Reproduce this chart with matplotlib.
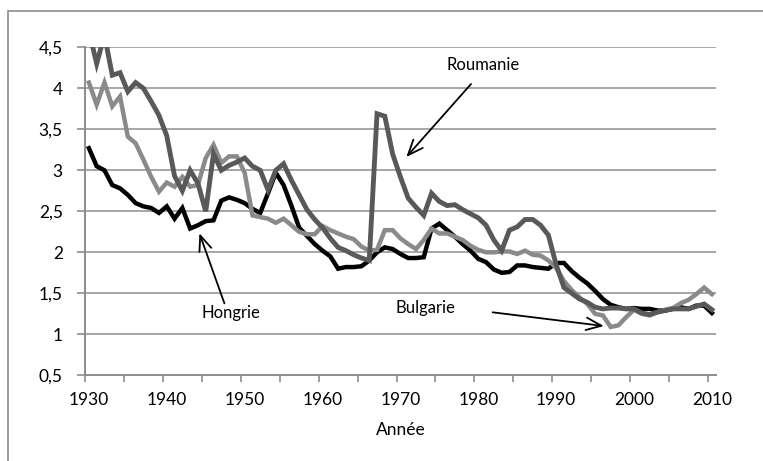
import matplotlib
matplotlib.use("Agg")
import matplotlib.pyplot as plt
from matplotlib.patches import Rectangle
import numpy as np

years = list(range(1930, 2011))

hongrie = [3.27, 3.05, 3.00, 2.82, 2.78, 2.70, 2.60, 2.56, 2.54, 2.48,
           2.56, 2.41, 2.54, 2.29, 2.33, 2.38, 2.39, 2.63, 2.67, 2.64,
           2.60, 2.53, 2.48, 2.72, 2.97, 2.82, 2.57, 2.30, 2.20, 2.10,
           2.02, 1.95, 1.80, 1.82, 1.82, 1.83, 1.90, 2.00, 2.06, 2.04,
           1.98, 1.93, 1.93, 1.94, 2.29, 2.35, 2.27, 2.19, 2.10, 2.02,
           1.92, 1.88, 1.79, 1.75, 1.76, 1.84, 1.84, 1.82, 1.81, 1.80,
           1.87, 1.87, 1.77, 1.69, 1.62, 1.53, 1.43, 1.36, 1.33, 1.31,
           1.32, 1.31, 1.31, 1.29, 1.29, 1.31, 1.33, 1.31, 1.35, 1.35,
           1.26]

roumanie = [4.70, 4.30, 4.65, 4.16, 4.19, 3.96, 4.07, 4.00, 3.84, 3.67,
            3.42, 2.93, 2.75, 3.00, 2.84, 2.50, 3.20, 3.00, 3.06, 3.10,
            3.15, 3.05, 3.00, 2.76, 3.00, 3.08, 2.88, 2.70, 2.52, 2.40,
            2.30, 2.17, 2.06, 2.02, 1.97, 1.93, 1.90, 3.69, 3.66, 3.20,
            2.92, 2.66, 2.55, 2.45, 2.72, 2.62, 2.57, 2.58, 2.52, 2.47,
            2.42, 2.33, 2.15, 2.02, 2.27, 2.31, 2.40, 2.40, 2.33, 2.21,
            1.85, 1.57, 1.50, 1.43, 1.39, 1.33, 1.31, 1.32, 1.32, 1.31,
            1.31, 1.26, 1.24, 1.27, 1.29, 1.31, 1.31, 1.31, 1.34, 1.37,
            1.30]

bulgarie = [4.07, 3.80, 4.07, 3.78, 3.90, 3.41, 3.33, 3.13, 2.92, 2.74,
            2.85, 2.80, 2.92, 2.80, 2.82, 3.15, 3.31, 3.09, 3.17, 3.17,
            2.97, 2.45, 2.43, 2.41, 2.36, 2.41, 2.33, 2.25, 2.22, 2.22,
            2.32, 2.27, 2.23, 2.19, 2.16, 2.07, 2.02, 2.03, 2.27, 2.27,
            2.17, 2.10, 2.04, 2.15, 2.29, 2.23, 2.23, 2.19, 2.15, 2.08,
            2.03, 2.00, 2.00, 2.01, 2.01, 1.98, 2.02, 1.97, 1.96, 1.90,
            1.81, 1.65, 1.54, 1.45, 1.37, 1.25, 1.23, 1.09, 1.11, 1.21,
            1.30, 1.25, 1.23, 1.27, 1.30, 1.32, 1.38, 1.42, 1.49, 1.57,
            1.49]

ytick_vals = [0.5, 1, 1.5, 2, 2.5, 3, 3.5, 4, 4.5]
ytick_labels = ["0,5", "1", "1,5", "2", "2,5", "3", "3,5", "4", "4,5"]
xlabel_years = [1930, 1940, 1950, 1960, 1970, 1980, 1990, 2000, 2010]

plt.rcParams['font.family'] = ['Lato', 'DejaVu Sans']

W, H = 763, 461
fig = plt.figure(figsize=(W / 100, H / 100), dpi=100)
L, R = 85 / W, 715.8 / W
T, B = 1 - 47.3 / H, 1 - 375.3 / H
ax = fig.add_axes([L, B, R - L, T - B])

# outer frame (cut at right and bottom)
fig.patches.append(Rectangle((8 / W, -0.1), 1.2, 1 - 11 / H + 0.1,
                             transform=fig.transFigure, fill=False,
                             edgecolor='#8c8c8c', linewidth=1.2))

grid_c = '#a6a6a6'
axis_c = '#8c8c8c'
for v in ytick_vals[1:]:
    ax.axhline(v, color=grid_c, linewidth=1.4, zorder=1)

ax.plot(years, hongrie, color='#000000', linewidth=3.2, zorder=3,
        solid_joinstyle='miter')
ax.plot(years, bulgarie, color='#8a8a8a', linewidth=3.2, zorder=4,
        solid_joinstyle='miter')
ax.plot(years, roumanie, color='#595959', linewidth=3.5, zorder=5,
        solid_joinstyle='miter')

ax.set_xlim(1929.5, 2010.5)
ax.set_ylim(0.5, 4.5)

for s in ['top', 'right']:
    ax.spines[s].set_visible(False)
for s in ['left', 'bottom']:
    ax.spines[s].set_color(axis_c)
    ax.spines[s].set_linewidth(1.4)

ax.set_yticks(ytick_vals)
ax.set_yticklabels(ytick_labels)
ax.tick_params(axis='y', length=6, width=1.2, color=axis_c, pad=10,
               labelsize=12.5, labelcolor='black')

bounds = [1929.5 + 5 * k for k in range(17)]
ax.set_xticks(bounds)
ax.set_xticklabels([''] * len(bounds))
ax.tick_params(axis='x', which='major', length=5, width=1.2, color=axis_c)
ax.set_xticks(xlabel_years, minor=True)
ax.set_xticklabels([str(y) for y in xlabel_years], minor=True)
ax.tick_params(axis='x', which='minor', length=0, pad=12, labelsize=12.5,
               labelcolor='black')

ax.set_xlabel('Année', fontsize=12.5, labelpad=10)

# annotations
ax.text(1980.65, 4.284, 'Roumanie', ha='center', va='center', fontsize=12)
ax.text(1948.23, 1.256, 'Hongrie', ha='center', va='center', fontsize=12)
ax.text(1973.2, 1.317, 'Bulgarie', ha='center', va='center', fontsize=12)
arr = dict(arrowstyle='->,head_length=1.1,head_width=0.45', color='black',
           linewidth=1.3, shrinkA=0, shrinkB=0)
ax.annotate('', xy=(1970.76, 3.162), xytext=(1979.07, 4.052), arrowprops=arr,
            zorder=6)
ax.annotate('', xy=(1944.19, 2.232), xytext=(1947.4, 1.378), arrowprops=arr,
            zorder=6)
ax.annotate('', xy=(1996.12, 1.101), xytext=(1981.85, 1.268), arrowprops=arr,
            zorder=6)

fig.savefig('out.png', dpi=100)
